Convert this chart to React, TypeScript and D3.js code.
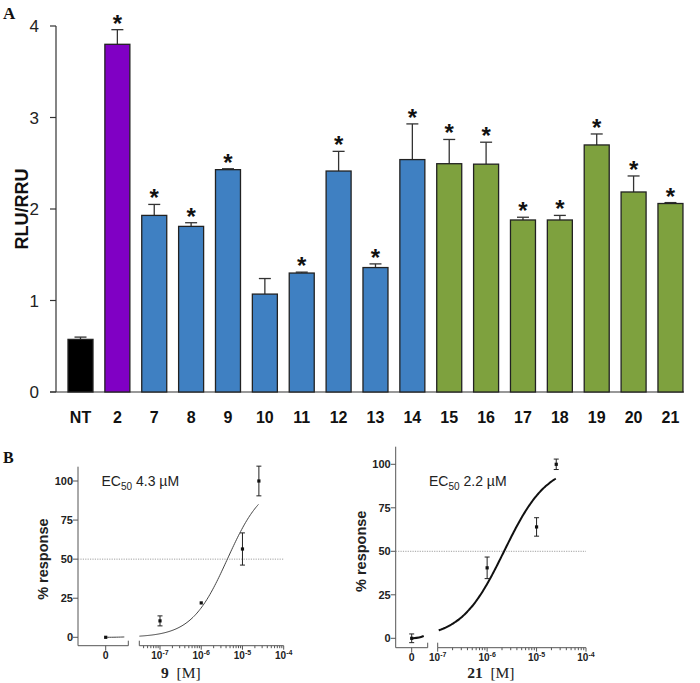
import React from "react";
import * as d3 from "d3";

// ---------- Panel A data ----------
const categories = ["NT", "2", "7", "8", "9", "10", "11", "12", "13", "14", "15", "16", "17", "18", "19", "20", "21"];
const values = [0.575, 3.8, 1.93, 1.81, 2.43, 1.07, 1.30, 2.415, 1.36, 2.54, 2.495, 2.49, 1.88, 1.88, 2.70, 2.186, 2.06];
const errors = [0.025, 0.16, 0.12, 0.04, 0.01, 0.17, 0.01, 0.215, 0.04, 0.39, 0.265, 0.24, 0.03, 0.05, 0.12, 0.175, 0.01];
const groups = ["ctrl", "ref", "blue", "blue", "blue", "blue", "blue", "blue", "blue", "blue", "green", "green", "green", "green", "green", "green", "green"];
const significant = [false, true, true, true, true, false, true, true, true, true, true, true, true, true, true, true, true];
const yTicksA = [0, 1, 2, 3, 4];

// ---------- Panel B data ----------
const concLeft = [0, 1e-7, 1e-6, 1e-5, 2.5e-5];
const respLeft = [0, 10.5, 22, 56.5, 100];
const errLeft = [0, 3.2, 0.6, 10.3, 9.5];
const ec50Left = 4.3e-6;
const concRight = [0, 1e-6, 1e-5, 2.5e-5];
const respRight = [0, 40.5, 64, 100];
const errRight = [2.5, 6.2, 5.3, 3];
const ec50Right = 2.2e-6;
const hillTop = 100;
const hillBottom = 0;
const hillSlope = 1;
const yTicksB = [0, 25, 50, 75, 100];
const logTicks = [-7, -6, -5, -4];

const colorMap: Record<string, string> = {
  ctrl: "#000000",
  ref: "#8000c4",
  blue: "#3f80c2",
  green: "#7ea13e",
};

const sans = "'Liberation Sans', Arial, sans-serif";
const serif = "'Liberation Serif', 'Times New Roman', serif";

function hill(c: number, ec50: number) {
  return hillBottom + (hillTop - hillBottom) / (1 + Math.pow(ec50 / c, hillSlope));
}

type PanelProps = {
  x0: number;
  yTop: number;
  yBot: number;
  y0: number;
  y100: number;
  zeroX: number;
  seg1End: number;
  seg2Start: number;
  logX: [number, number];
  conc: number[];
  resp: number[];
  err: number[];
  ec50: number;
  ec50Label: string;
  compound: string;
  curveStart: number;
  curveEnd: number;
  curveWidth: number;
  curveColor: string;
  ylabelX: number;
  ec50X: number;
  ec50Y: number;
};

function DoseResponse(p: PanelProps) {
  const y = d3.scaleLinear().domain([0, 100]).range([p.y0, p.y100]);
  const x = d3.scaleLog().domain([1e-7, 1e-4]).range(p.logX);
  const axisColor = "#555";
  const minor: number[] = [];
  for (let e = -8; e < -4; e++) {
    for (let m = 2; m <= 9; m++) {
      const v = m * Math.pow(10, e);
      const px = x(v);
      if (px >= p.seg2Start && px <= p.logX[1]) minor.push(v);
    }
  }
  const curvePts: [number, number][] = [];
  const n = 120;
  const l0 = Math.log10(p.curveStart);
  const l1 = Math.log10(p.curveEnd);
  for (let i = 0; i <= n; i++) {
    const c = Math.pow(10, l0 + ((l1 - l0) * i) / n);
    curvePts.push([x(c), y(hill(c, p.ec50))]);
  }
  const line = d3.line().curve(d3.curveBasis);
  const zeroEndVal = hill(p.curveStart, p.ec50) * 0.3;
  const zeroCurve: [number, number][] = [
    [p.zeroX, y(0)],
    [(p.zeroX + p.seg1End) / 2, y(zeroEndVal * 0.25)],
    [p.seg1End - 4, y(zeroEndVal)],
  ];
  const yMid = (p.y0 + p.y100) / 2;
  const xLabelCenter = (p.x0 + p.logX[1]) / 2;
  return (
    <g>
      <line x1={p.x0} x2={p.x0} y1={p.yTop} y2={p.yBot} stroke={axisColor} strokeWidth={1} />
      {yTicksB.map((t) => (
        <g key={t}>
          <line x1={p.x0 - 5} x2={p.x0} y1={y(t)} y2={y(t)} stroke={axisColor} />
          <text x={p.x0 - 5} y={y(t) + 4} textAnchor="end" fontFamily={sans} fontWeight="bold" fontSize={11} fill="#222">
            {t}
          </text>
        </g>
      ))}
      <line x1={p.x0} x2={p.seg1End} y1={p.yBot} y2={p.yBot} stroke={axisColor} />
      <line x1={p.seg1End} x2={p.seg1End} y1={p.yBot} y2={p.yBot - 5} stroke={axisColor} />
      <line x1={p.zeroX} x2={p.zeroX} y1={p.yBot} y2={p.yBot + 5} stroke={axisColor} />
      <text x={p.zeroX} y={p.yBot + 13.5} textAnchor="middle" fontFamily={sans} fontWeight="bold" fontSize={10.5} fill="#222">0</text>
      <line x1={p.seg2Start} x2={p.logX[1]} y1={p.yBot} y2={p.yBot} stroke={axisColor} />
      <line x1={p.seg2Start} x2={p.seg2Start} y1={p.yBot} y2={p.yBot - 5} stroke={axisColor} />
      {logTicks.map((e) => (
        <g key={e}>
          <line x1={x(Math.pow(10, e))} x2={x(Math.pow(10, e))} y1={p.yBot} y2={p.yBot + 4} stroke={axisColor} />
          <text x={x(Math.pow(10, e))} y={p.yBot + 13.5} textAnchor="middle" fontFamily={sans} fontWeight="bold" fontSize={10} fill="#222">
            10<tspan dy={-4} fontSize={7}>{e}</tspan>
          </text>
        </g>
      ))}
      {minor.map((v, i) => (
        <line key={i} x1={x(v)} x2={x(v)} y1={p.yBot} y2={p.yBot + 2.5} stroke={axisColor} />
      ))}
      <line x1={p.x0} x2={p.logX[1]} y1={y(50)} y2={y(50)} stroke="#888" strokeWidth={0.8} strokeDasharray="1.2,1.2" />
      <path d={line(zeroCurve) || ""} fill="none" stroke={p.curveColor} strokeWidth={p.curveWidth} />
      <path d={line(curvePts) || ""} fill="none" stroke={p.curveColor} strokeWidth={p.curveWidth} />
      {p.conc.map((c, i) => {
        const px = c === 0 ? p.zeroX : x(c);
        const py = y(p.resp[i]);
        const e = p.err[i];
        return (
          <g key={i}>
            {e > 1 && (
              <g stroke="#222" strokeWidth={1}>
                <line x1={px} x2={px} y1={y(p.resp[i] - e)} y2={y(p.resp[i] + e)} />
                <line x1={px - 2.5} x2={px + 2.5} y1={y(p.resp[i] - e)} y2={y(p.resp[i] - e)} />
                <line x1={px - 2.5} x2={px + 2.5} y1={y(p.resp[i] + e)} y2={y(p.resp[i] + e)} />
              </g>
            )}
            <rect x={px - 1.6} y={py - 1.6} width={3.2} height={3.2} fill="#111" />
          </g>
        );
      })}
      <text
        transform={`translate(${p.ylabelX},${yMid}) rotate(-90)`}
        textAnchor="middle"
        fontFamily={sans}
        fontWeight="bold"
        fontSize={14.5}
        fill="#222"
      >
        % response
      </text>
      <text x={p.ec50X} y={p.ec50Y} fontFamily={sans} fontSize={14} fill="#222">
        EC<tspan dy={4} fontSize={10}>50</tspan>
        <tspan dy={-4}> {p.ec50Label}</tspan>
      </text>
      <text x={xLabelCenter} y={678} textAnchor="middle" fontFamily={serif} fontSize={15.5} fill="#222">
        <tspan fontWeight="bold">{p.compound}</tspan>
        <tspan>{"\u00a0\u00a0[M]"}</tspan>
      </text>
    </g>
  );
}

export default function App() {
  const W = 700;
  const H = 683;
  const yA = d3.scaleLinear().domain([0, 4]).range([392, 26]);
  const xA = d3.scaleBand<string>().domain(categories).range([62.06, 688.9]).paddingInner(0.322).paddingOuter(0.161);
  const bw = xA.bandwidth();
  return (
    <svg width={W} height={H} style={{ position: "absolute", left: 0, top: 0, display: "block", background: "#fff" }}>
      <rect width={W} height={H} fill="#fff" />
      <text x={3} y={19} fontFamily={serif} fontWeight="bold" fontSize={17} fill="#111">A</text>
      <line x1={56} x2={56} y1={yA(4)} y2={yA(0)} stroke="#333" strokeWidth={1.2} />
      <line x1={50} x2={684} y1={yA(0)} y2={yA(0)} stroke="#333" strokeWidth={1.2} />
      {yTicksA.map((t) => (
        <g key={t}>
          <line x1={50} x2={56} y1={yA(t)} y2={yA(t)} stroke="#333" strokeWidth={1.2} />
          <text x={39} y={yA(t) + 6} textAnchor="end" fontFamily={sans} fontSize={17} fill="#222">
            {t}
          </text>
        </g>
      ))}
      <text transform={`translate(28,${yA(2)}) rotate(-90)`} textAnchor="middle" fontFamily={sans} fontWeight="bold" fontSize={18} fill="#111">
        RLU/RRU
      </text>
      {categories.map((c, i) => {
        const x = xA(c) as number;
        const cx = x + bw / 2;
        const top = yA(values[i]);
        const eTop = yA(values[i] + errors[i]);
        return (
          <g key={c}>
            <line x1={cx} x2={cx} y1={top} y2={eTop} stroke="#333" strokeWidth={1.3} />
            <line x1={cx - 6} x2={cx + 6} y1={eTop} y2={eTop} stroke="#333" strokeWidth={1.3} />
            <rect x={x} y={top} width={bw} height={yA(0) - top} fill={colorMap[groups[i]]} stroke="#222" strokeWidth={1.3} />
            {significant[i] && (
              <text x={cx} y={eTop + 2} textAnchor="middle" fontFamily={sans} fontWeight="bold" fontSize={24} fill="#111">
                *
              </text>
            )}
            <text x={cx} y={423} textAnchor="middle" fontFamily={sans} fontWeight="bold" fontSize={16} fill="#111">
              {c}
            </text>
          </g>
        );
      })}
      <text x={3} y={463} fontFamily={serif} fontWeight="bold" fontSize={16} fill="#111">B</text>
      <DoseResponse
        x0={78}
        yTop={466.7}
        yBot={645.7}
        y0={637.3}
        y100={481}
        zeroX={105.7}
        seg1End={128.3}
        seg2Start={139.3}
        logX={[160, 283.7]}
        conc={concLeft}
        resp={respLeft}
        err={errLeft}
        ec50={ec50Left}
        ec50Label={"4.3 \u00b5M"}
        compound="9"
        curveStart={3.16e-8}
        curveEnd={2.45e-5}
        curveWidth={1}
        curveColor="#444"
        ylabelX={48}
        ec50X={101.5}
        ec50Y={486}
      />
      <DoseResponse
        x0={395.7}
        yTop={446.7}
        yBot={647.7}
        y0={638.3}
        y100={464.3}
        zeroX={411.7}
        seg1End={427.7}
        seg2Start={437.7}
        logX={[437.7, 586]}
        conc={concRight}
        resp={respRight}
        err={errRight}
        ec50={ec50Right}
        ec50Label={"2.2 \u00b5M"}
        compound="21"
        curveStart={1.05e-7}
        curveEnd={2.45e-5}
        curveWidth={2}
        curveColor="#111"
        ylabelX={366}
        ec50X={429}
        ec50Y={486}
      />
    </svg>
  );
}
